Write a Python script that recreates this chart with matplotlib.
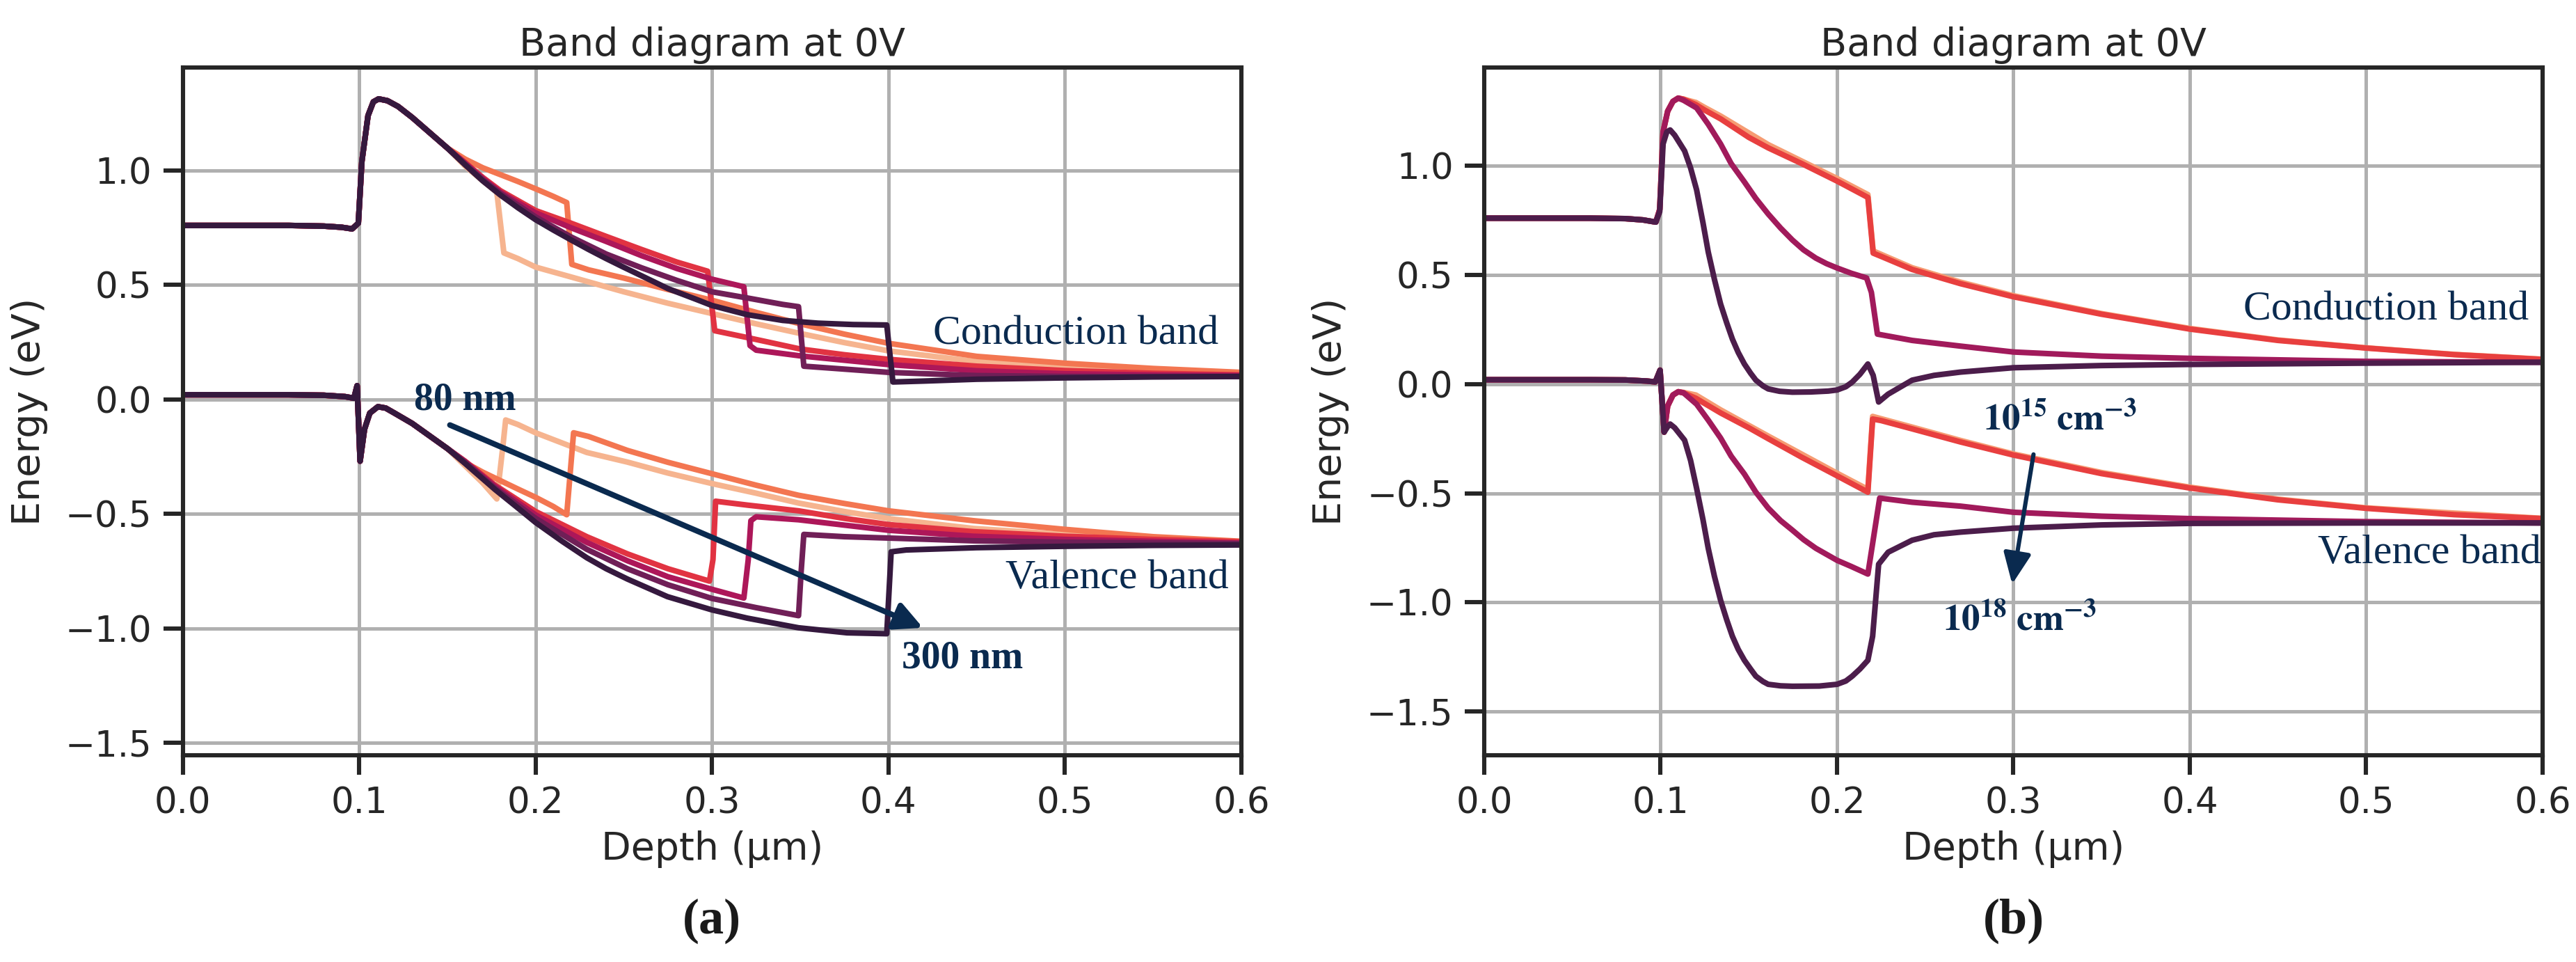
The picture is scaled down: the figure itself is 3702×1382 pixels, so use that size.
import matplotlib
matplotlib.use('Agg')
import matplotlib.pyplot as plt
import seaborn as sns

# ---------------- panel (a): layer thickness sweep ----------------
a_labels = ['80 nm', '120 nm', '200 nm', '220 nm', '250 nm', '300 nm']

# part shared by all thicknesses (x <= 0.15 um)
a_head_cb_x = [0.0, 0.06, 0.08, 0.09, 0.096, 0.0995, 0.1015, 0.105, 0.108, 0.111, 0.116, 0.122, 0.13, 0.14, 0.15]
a_head_cb_y = [0.76, 0.76, 0.757, 0.752, 0.745, 0.77, 1.04, 1.24, 1.30, 1.313, 1.305, 1.28, 1.232, 1.165, 1.098]
a_head_vb_x = [0.0, 0.06, 0.08, 0.092, 0.097, 0.0988, 0.1005, 0.103, 0.106, 0.1106, 0.115, 0.12, 0.13, 0.14, 0.15]
a_head_vb_y = [0.02, 0.02, 0.018, 0.012, 0.005, 0.06, -0.27, -0.13, -0.06, -0.032, -0.038, -0.06, -0.105, -0.16, -0.215]

# conduction band, after 0.15 um
a_cb_80 = [(0.16, 1.02), (0.17, 0.955), (0.178, 0.905), (0.182, 0.64), (0.19, 0.615), (0.2, 0.578),
           (0.22, 0.535), (0.25, 0.47), (0.275, 0.42), (0.3, 0.375), (0.325, 0.33), (0.35, 0.288),
           (0.375, 0.248), (0.4, 0.212), (0.45, 0.165), (0.5, 0.142), (0.55, 0.126), (0.6, 0.113)]
a_cb_120 = [(0.16, 1.05), (0.17, 1.012), (0.18, 0.982), (0.19, 0.952), (0.2, 0.92), (0.21, 0.887), (0.2176, 0.86),
            (0.2205, 0.59), (0.23, 0.566), (0.25, 0.53), (0.275, 0.48), (0.3, 0.433), (0.325, 0.38),
            (0.35, 0.33), (0.375, 0.285), (0.4, 0.245), (0.45, 0.188), (0.5, 0.158), (0.55, 0.135), (0.6, 0.118)]
a_cb_200 = [(0.16, 1.035), (0.17, 0.97), (0.18, 0.912), (0.2, 0.825), (0.22, 0.77), (0.24, 0.712),
            (0.26, 0.655), (0.28, 0.6), (0.2975, 0.56), (0.3015, 0.3), (0.32, 0.27), (0.35, 0.22),
            (0.375, 0.195), (0.4, 0.175), (0.45, 0.145), (0.5, 0.126), (0.55, 0.114), (0.6, 0.107)]
a_cb_220 = [(0.16, 1.032), (0.17, 0.965), (0.18, 0.905), (0.2, 0.815), (0.22, 0.75), (0.24, 0.69),
            (0.26, 0.628), (0.28, 0.572), (0.3, 0.525), (0.318, 0.492), (0.3215, 0.235), (0.325, 0.215),
            (0.35, 0.19), (0.4, 0.152), (0.45, 0.125), (0.5, 0.112), (0.55, 0.107), (0.6, 0.104)]
a_cb_250 = [(0.16, 1.028), (0.17, 0.96), (0.18, 0.9), (0.2, 0.797), (0.22, 0.71), (0.24, 0.635),
            (0.26, 0.575), (0.28, 0.52), (0.3, 0.47), (0.32, 0.443), (0.34, 0.415), (0.349, 0.405),
            (0.352, 0.145), (0.37, 0.135), (0.4, 0.118), (0.45, 0.104), (0.5, 0.1), (0.6, 0.1)]
a_cb_300 = [(0.16, 1.025), (0.17, 0.955), (0.18, 0.893), (0.19, 0.837), (0.2, 0.785), (0.21, 0.74),
            (0.22, 0.697), (0.23, 0.655), (0.24, 0.615), (0.25, 0.577), (0.26, 0.54), (0.275, 0.484),
            (0.29, 0.44), (0.3, 0.41), (0.32, 0.37), (0.34, 0.345), (0.36, 0.333), (0.38, 0.327),
            (0.399, 0.325), (0.4025, 0.076), (0.42, 0.08), (0.45, 0.088), (0.5, 0.094), (0.55, 0.098), (0.6, 0.1)]

# valence band, after 0.15 um
a_vb_80 = [(0.16, -0.29), (0.17, -0.365), (0.178, -0.435), (0.1815, -0.2), (0.183, -0.09), (0.19, -0.11),
           (0.2, -0.146), (0.229, -0.232), (0.252, -0.274), (0.275, -0.322), (0.3, -0.368), (0.325, -0.41),
           (0.349, -0.453), (0.375, -0.49), (0.4, -0.521), (0.448, -0.564), (0.5, -0.59), (0.55, -0.61), (0.6, -0.625)]
a_vb_120 = [(0.16, -0.276), (0.17, -0.318), (0.18, -0.355), (0.19, -0.392), (0.2, -0.428), (0.21, -0.468), (0.2176, -0.504),
            (0.2215, -0.146), (0.23, -0.162), (0.252, -0.223), (0.275, -0.275), (0.3, -0.325), (0.325, -0.375),
            (0.349, -0.419), (0.375, -0.455), (0.4, -0.487), (0.448, -0.53), (0.5, -0.568), (0.55, -0.6), (0.6, -0.62)]
a_vb_200 = [(0.16, -0.27), (0.177, -0.375), (0.2, -0.49), (0.229, -0.6), (0.252, -0.675), (0.275, -0.74),
            (0.2985, -0.794), (0.3005, -0.7), (0.302, -0.445), (0.32, -0.462), (0.349, -0.487), (0.375, -0.52),
            (0.4, -0.547), (0.448, -0.578), (0.5, -0.598), (0.55, -0.612), (0.6, -0.622)]
a_vb_220 = [(0.16, -0.272), (0.177, -0.38), (0.2, -0.505), (0.229, -0.625), (0.252, -0.705), (0.275, -0.775),
            (0.3, -0.83), (0.318, -0.868), (0.3205, -0.7), (0.322, -0.53), (0.325, -0.513), (0.349, -0.526),
            (0.4, -0.572), (0.448, -0.598), (0.5, -0.612), (0.6, -0.628)]
a_vb_250 = [(0.16, -0.275), (0.177, -0.388), (0.2, -0.52), (0.229, -0.655), (0.252, -0.74), (0.275, -0.81),
            (0.3, -0.87), (0.325, -0.91), (0.349, -0.945), (0.3505, -0.75), (0.352, -0.59), (0.375, -0.6),
            (0.4, -0.606), (0.448, -0.618), (0.5, -0.624), (0.6, -0.63)]
a_vb_300 = [(0.16, -0.28), (0.177, -0.394), (0.19, -0.475), (0.2, -0.538), (0.215, -0.62), (0.229, -0.692),
            (0.24, -0.74), (0.252, -0.785), (0.2747, -0.862), (0.3, -0.92), (0.32, -0.956), (0.349, -0.998),
            (0.3765, -1.02), (0.399, -1.024), (0.4015, -0.666), (0.41, -0.658), (0.45, -0.648), (0.5, -0.642),
            (0.55, -0.638), (0.6, -0.636)]

a_cb_tails = [a_cb_80, a_cb_120, a_cb_200, a_cb_220, a_cb_250, a_cb_300]
a_vb_tails = [a_vb_80, a_vb_120, a_vb_200, a_vb_220, a_vb_250, a_vb_300]

# ---------------- panel (b): doping sweep ----------------
b_labels = ['1e15', '1e16', '1e17', '1e18']

b_head_cb_x = [0.0, 0.06, 0.08, 0.09, 0.0973, 0.0995, 0.1014, 0.104, 0.107, 0.11]
b_head_cb_y = [0.76, 0.76, 0.758, 0.752, 0.742, 0.8, 1.155, 1.25, 1.295, 1.31]
b_head_vb_x = [0.0, 0.06, 0.08, 0.092, 0.097, 0.0997, 0.102, 0.104, 0.107, 0.11]
b_head_vb_y = [0.02, 0.02, 0.019, 0.014, 0.01, 0.064, -0.22, -0.1, -0.05, -0.035]

b_cb_15 = [(0.113, 1.305), (0.12, 1.29), (0.125, 1.267), (0.134, 1.228), (0.161, 1.097), (0.2, 0.942),
           (0.2175, 0.868), (0.2205, 0.61), (0.2426, 0.533), (0.27, 0.467), (0.3, 0.405), (0.35, 0.323),
           (0.4, 0.255), (0.45, 0.202), (0.5, 0.166), (0.55, 0.136), (0.6, 0.114)]
b_cb_16 = [(0.113, 1.305), (0.12, 1.28), (0.125, 1.255), (0.134, 1.215), (0.15, 1.13), (0.161, 1.082),
           (0.18, 1.01), (0.2, 0.93), (0.2175, 0.855), (0.2205, 0.6), (0.225, 0.585), (0.2426, 0.525),
           (0.27, 0.46), (0.3, 0.4), (0.35, 0.32), (0.4, 0.252), (0.45, 0.2), (0.5, 0.165), (0.55, 0.135), (0.6, 0.113)]
b_cb_17 = [(0.113, 1.3), (0.1204, 1.265), (0.127, 1.19), (0.134, 1.10), (0.14, 1.01), (0.1475, 0.926),
           (0.154, 0.85), (0.161, 0.779), (0.168, 0.715), (0.1747, 0.66), (0.181, 0.615), (0.188, 0.577),
           (0.194, 0.552), (0.2, 0.532), (0.208, 0.508), (0.2168, 0.486), (0.2195, 0.42), (0.2229, 0.229),
           (0.2426, 0.2), (0.27, 0.174), (0.3, 0.147), (0.35, 0.128), (0.4, 0.118), (0.5, 0.104), (0.6, 0.1)]
b_cb_18 = [(0.0, 0.76), (0.06, 0.76), (0.08, 0.758), (0.09, 0.752), (0.0973, 0.742), (0.0995, 0.79),
           (0.1014, 1.1), (0.1035, 1.155), (0.1054, 1.164), (0.108, 1.14), (0.1136, 1.068), (0.117, 0.99),
           (0.1204, 0.89), (0.124, 0.74), (0.127, 0.605), (0.1305, 0.48), (0.134, 0.367), (0.1375, 0.28),
           (0.1407, 0.206), (0.144, 0.145), (0.1475, 0.092), (0.151, 0.05), (0.154, 0.018), (0.158, -0.008),
           (0.161, -0.022), (0.1675, -0.033), (0.1747, -0.037), (0.185, -0.036), (0.195, -0.032), (0.2, -0.027),
           (0.205, -0.012), (0.2086, 0.009), (0.213, 0.045), (0.2175, 0.092), (0.2205, 0.04), (0.2236, -0.082),
           (0.229, -0.046), (0.2426, 0.018), (0.255, 0.04), (0.27, 0.055), (0.3, 0.075), (0.35, 0.085),
           (0.4, 0.09), (0.5, 0.096), (0.6, 0.1)]

b_vb_15 = [(0.113, -0.038), (0.12, -0.05), (0.134, -0.118), (0.161, -0.238), (0.2, -0.408), (0.2175, -0.482),
           (0.2202, -0.148), (0.2426, -0.197), (0.27, -0.258), (0.3, -0.32), (0.35, -0.405), (0.4, -0.472),
           (0.45, -0.527), (0.5, -0.567), (0.6, -0.615)]
b_vb_16 = [(0.113, -0.04), (0.12, -0.065), (0.134, -0.132), (0.15, -0.2), (0.161, -0.25), (0.18, -0.335),
           (0.2, -0.42), (0.2175, -0.495), (0.2202, -0.16), (0.225, -0.167), (0.2426, -0.205), (0.27, -0.265),
           (0.3, -0.325), (0.35, -0.41), (0.4, -0.476), (0.45, -0.53), (0.5, -0.569), (0.55, -0.598), (0.6, -0.616)]
b_vb_17 = [(0.113, -0.04), (0.1204, -0.092), (0.127, -0.165), (0.134, -0.247), (0.14, -0.33), (0.1475, -0.412),
           (0.154, -0.495), (0.161, -0.568), (0.168, -0.625), (0.1747, -0.669), (0.181, -0.712), (0.188, -0.752),
           (0.2, -0.807), (0.208, -0.835), (0.2175, -0.87), (0.2242, -0.522), (0.2426, -0.541), (0.27, -0.559),
           (0.3, -0.587), (0.35, -0.605), (0.4, -0.616), (0.5, -0.63), (0.6, -0.636)]
b_vb_18 = [(0.0, 0.02), (0.06, 0.02), (0.08, 0.019), (0.092, 0.014), (0.097, 0.01), (0.0997, 0.064),
           (0.102, -0.22), (0.104, -0.195), (0.1054, -0.183), (0.108, -0.2), (0.1136, -0.257), (0.117, -0.35),
           (0.1204, -0.477), (0.124, -0.62), (0.127, -0.752), (0.1305, -0.88), (0.134, -0.99), (0.1375, -1.08),
           (0.1407, -1.155), (0.144, -1.215), (0.1475, -1.265), (0.151, -1.305), (0.154, -1.338), (0.158, -1.362),
           (0.161, -1.375), (0.168, -1.382), (0.1747, -1.384), (0.19, -1.383), (0.2, -1.375), (0.205, -1.36),
           (0.2086, -1.338), (0.213, -1.305), (0.2175, -1.265), (0.2202, -1.155), (0.2236, -0.825), (0.229, -0.77),
           (0.2426, -0.715), (0.255, -0.69), (0.27, -0.678), (0.3, -0.66), (0.35, -0.645), (0.4, -0.638),
           (0.5, -0.636), (0.6, -0.636)]

b_cb_tails = [b_cb_15, b_cb_16, b_cb_17]
b_vb_tails = [b_vb_15, b_vb_16, b_vb_17]

NAVY = '#0a2a4f'
DARK = '#262626'
LW = 2.9


def style_axes(ax, ylim):
    ax.set_xlim(0, 0.6)
    ax.set_ylim(*ylim)
    ax.set_yticks([-1.5, -1.0, -0.5, 0.0, 0.5, 1.0])
    ax.grid(True, color='#b0b0b0', linewidth=1.8)
    ax.set_axisbelow(True)
    for s in ax.spines.values():
        s.set_linewidth(2.2)
        s.set_color(DARK)
    ax.tick_params(direction='out', length=10, width=2.2, color=DARK,
                   labelsize=18.5, labelcolor=DARK, pad=6)
    ax.set_xlabel('Depth (µm)', fontsize=20, color=DARK, labelpad=5)
    ax.set_ylabel('Energy (eV)', fontsize=20, color=DARK, labelpad=9)
    ax.set_title('Band diagram at 0V', fontsize=20, color=DARK, pad=6)


def join(head_x, head_y, tail):
    return head_x + [p[0] for p in tail], head_y + [p[1] for p in tail]


plt.rcParams['font.family'] = ['DejaVu Sans']
plt.rcParams['mathtext.fontset'] = 'stix'

fig = plt.figure(figsize=(18.51, 6.91), dpi=200)
ax_a = fig.add_axes([0.07096, 0.21491, 0.41094, 0.7149])
ax_b = fig.add_axes([0.57617, 0.21491, 0.41086, 0.7149])

# panel (a)
colors_a = sns.color_palette('rocket_r', len(a_labels))
for i, lab in enumerate(a_labels):
    x, y = join(a_head_cb_x, a_head_cb_y, a_cb_tails[i])
    ax_a.plot(x, y, color=colors_a[i], lw=LW)
    x, y = join(a_head_vb_x, a_head_vb_y, a_vb_tails[i])
    ax_a.plot(x, y, color=colors_a[i], lw=LW)
style_axes(ax_a, (-1.555, 1.45))

serif = 'Liberation Serif'
ax_a.text(0.131, -0.044, '80 nm', family=serif, weight='bold', fontsize=20, color=NAVY)
ax_a.text(0.4074, -1.172, '300 nm', family=serif, weight='bold', fontsize=20, color=NAVY)
ax_a.annotate('', xy=(0.4195, -0.998), xytext=(0.1514, -0.112),
              arrowprops=dict(arrowstyle='-|>,head_length=0.4,head_width=0.2', color=NAVY,
                              lw=2.9, mutation_scale=30, shrinkA=0, shrinkB=0))
ax_a.text(0.587, 0.24, 'Conduction band', family=serif, fontsize=21.5, color=NAVY, ha='right')
ax_a.text(0.593, -0.824, 'Valence band', family=serif, fontsize=21.5, color=NAVY, ha='right')

# panel (b)
colors_b = sns.color_palette('rocket_r', len(b_labels))
for i in range(3):
    x, y = join(b_head_cb_x, b_head_cb_y, b_cb_tails[i])
    ax_b.plot(x, y, color=colors_b[i], lw=LW)
    x, y = join(b_head_vb_x, b_head_vb_y, b_vb_tails[i])
    ax_b.plot(x, y, color=colors_b[i], lw=LW)
ax_b.plot([p[0] for p in b_cb_18], [p[1] for p in b_cb_18], color=colors_b[3], lw=LW)
ax_b.plot([p[0] for p in b_vb_18], [p[1] for p in b_vb_18], color=colors_b[3], lw=LW)
style_axes(ax_b, (-1.70, 1.45))

ax_b.text(0.283, -0.21, r'$\mathbf{10^{15}\ cm^{-3}}$', fontsize=19, color=NAVY)
ax_b.text(0.26, -1.129, r'$\mathbf{10^{18}\ cm^{-3}}$', fontsize=19, color=NAVY)
ax_b.annotate('', xy=(0.2993, -0.916), xytext=(0.3114, -0.322),
              arrowprops=dict(arrowstyle='-|>,head_length=0.45,head_width=0.2', color=NAVY,
                              lw=2.2, mutation_scale=30, shrinkA=0, shrinkB=0))
ax_b.text(0.592, 0.294, 'Conduction band', family=serif, fontsize=21.5, color=NAVY, ha='right')
ax_b.text(0.599, -0.82, 'Valence band', family=serif, fontsize=21.5, color=NAVY, ha='right')

# panel letters
fig.text(0.2764, 0.03, '(a)', family=serif, weight='bold', fontsize=26, color='#1a1a1a',
         ha='center', va='baseline')
fig.text(0.7816, 0.03, '(b)', family=serif, weight='bold', fontsize=26, color='#1a1a1a',
         ha='center', va='baseline')

fig.savefig('out.png', dpi=200)
